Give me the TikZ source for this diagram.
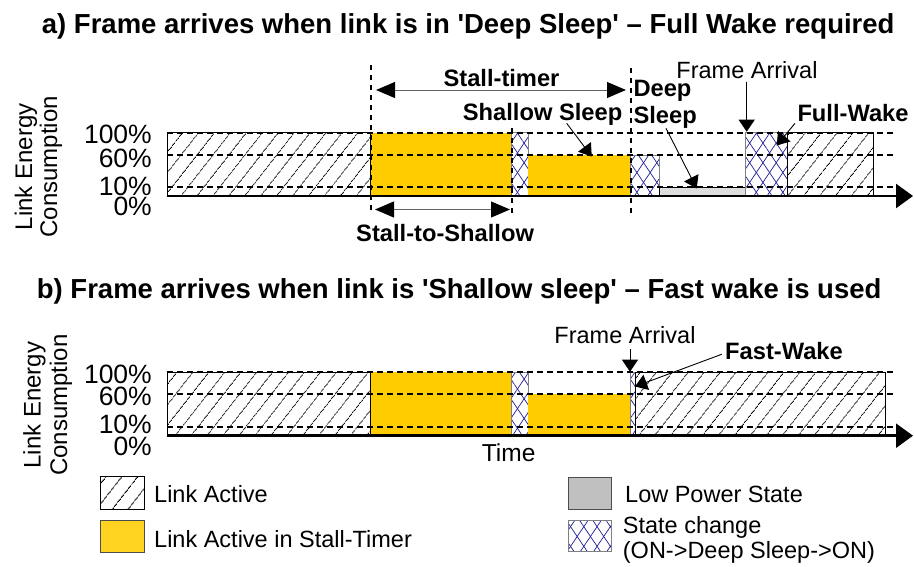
\documentclass[tikz,border=0pt]{standalone}
\usepackage{fontspec}
\setmainfont{Liberation Sans}
\usetikzlibrary{arrows.meta,patterns.meta}

\definecolor{stallyellow}{RGB}{255,204,0}
\definecolor{legyellow}{RGB}{255,211,32}
\definecolor{xblue}{RGB}{30,30,150}
\definecolor{lowgray}{RGB}{221,221,221}
\definecolor{leggray}{RGB}{192,192,192}
\definecolor{dimline}{RGB}{100,100,100}

\tikzset{
  activebox/.style={fill=white,
    postaction={pattern={Lines[angle=52,distance=13pt,line width=0.9pt]},pattern color=black},
    postaction={draw=black,line width=0.8pt}},
  stallbox/.style={fill=stallyellow},
  xbox/.style={fill=white,
    postaction={pattern={Lines[angle=56,distance=11pt,line width=0.7pt]},pattern color=xblue},
    postaction={pattern={Lines[angle=-56,distance=11pt,line width=0.7pt]},pattern color=xblue},
    postaction={draw=gray,line width=0.6pt}},
  lowbox/.style={fill=lowgray,draw=black,line width=0.6pt},
  guide/.style={draw=black,line width=2.2pt,dash pattern=on 6pt off 4pt},
  vguide/.style={draw=black,line width=2.2pt,dash pattern=on 5pt off 5pt},
  timeaxis/.style={draw=black,line width=2.5pt,-{Triangle[length=17pt,width=24pt]}},
  span/.style={draw=dimline,line width=1pt,
    {Triangle[length=19pt,width=16pt,color=black]}-{Triangle[length=19pt,width=16pt,color=black]}},
  annot/.style={draw=black,line width=0.9pt,-{Triangle[length=12pt,width=16pt]}},
  ttl/.style={font=\fontsize{27.5}{32}\selectfont\bfseries,inner sep=0pt,anchor=base west},
  blbl/.style={font=\fontsize{23.7}{27}\selectfont\bfseries,inner sep=0pt},
  rlbl/.style={font=\fontsize{23.5}{27}\selectfont,inner sep=0pt},
  ticklbl/.style={font=\fontsize{26.5}{28}\selectfont,inner sep=0pt,anchor=base east},
  ylbl/.style={font=\fontsize{24}{26}\selectfont,inner sep=0pt,anchor=base,rotate=90},
  leglbl/.style={font=\fontsize{23.5}{26}\selectfont,inner sep=0pt,anchor=base west},
}

\begin{document}
\begin{tikzpicture}[x=1pt,y=-1pt]
\useasboundingbox (0,0) rectangle (914,566);
\fill[white] (0,0) rectangle (914,566);

% ---------------- titles ----------------
\node[ttl] (titleA) at (41.7,33.3) {a) Frame arrives when link is in \textquotesingle Deep Sleep\textquotesingle\ – Full Wake required};
\node[ttl] (titleB) at (36.7,298.3) {b) Frame arrives when link is \textquotesingle Shallow sleep\textquotesingle\ – Fast wake is used};

% ---------------- panel a: bars ----------------
\path[activebox] (167,132.7) rectangle (370.7,196);
\path[stallbox]  (370.7,132.7) rectangle (511.7,196);
\path[xbox]      (511.7,132.7) rectangle (528.3,196);
\path[stallbox]  (528.3,155.3) rectangle (630,196);
\path[xbox]      (630,155.3) rectangle (659.3,196);
\path[lowbox]    (659.3,187) rectangle (745.3,196);
\path[xbox]      (745.3,132.7) rectangle (787.3,196);
\path[activebox] (787.3,132.7) rectangle (873.3,196);

% level guides
\draw[guide] (167,132.7) -- (895,132.7);
\draw[guide] (167,155.3) -- (895,155.3);
\draw[guide] (167,187) -- (895,187);

% time axis
\coordinate (aStart) at (167,196);
\coordinate (aEnd) at (913,196);
\draw[timeaxis] (aStart) -- (aEnd);

% phase boundaries
\draw[vguide] (370.7,65) -- (370.7,212);
\draw[vguide] (511.7,128) -- (511.7,213);
\draw[vguide] (630.7,68) -- (630.7,213);

% ticks and axis title
\node[ticklbl] (aT100) at (152,143.3) {100\%};
\node[ticklbl] (aT60)  at (152,167.3) {60\%};
\node[ticklbl] (aT10)  at (152,195) {10\%};
\node[ticklbl] (aT0)   at (152,215) {0\%};
\node[ylbl] (aY1) at (32.2,166.7) {Link Energy};
\node[ylbl] (aY2) at (57.2,166.7) {Consumption};

% spans
\coordinate (stL) at (376,90);
\coordinate (stR) at (626,90);
\draw[span] (stL) -- (stR);
\node[blbl,anchor=base] (stallTimer) at (501.5,86.7) {Stall-timer};
\coordinate (ssL) at (375,209.5);
\coordinate (ssR) at (510,209.5);
\draw[span] (ssL) -- (ssR);
\node[blbl,anchor=base west] (stallShallow) at (356,241.7) {Stall-to-Shallow};

% annotations
\node[blbl,anchor=base west] (shallow) at (462.7,120.7) {Shallow Sleep};
\coordinate (shFrom) at (566.7,123.3);
\coordinate (shTo) at (591.7,156.5);
\draw[annot] (shFrom) -- (shTo);

\node[blbl,anchor=base west] (deep1) at (633.3,96.7) {Deep};
\node[blbl,anchor=base west] (deep2) at (633.3,123.3) {Sleep};
\coordinate (dpFrom) at (666,128.3);
\coordinate (dpTo) at (696.7,188.5);
\draw[annot] (dpFrom) -- (dpTo);

\node[rlbl,anchor=base] (arrA) at (747,78.3) {Frame Arrival};
\coordinate (faFrom) at (746.7,81.7);
\coordinate (faTo) at (746.7,131.7);
\draw[annot] (faFrom) -- (faTo);

\node[blbl,anchor=base west] (fullWake) at (797.3,121.7) {Full-Wake};
\coordinate (fwFrom) at (795,123.3);
\coordinate (fwTo) at (776.7,145.5);
\draw[annot] (fwFrom) -- (fwTo);

% ---------------- panel b: bars ----------------
\path[activebox] (167,372.3) rectangle (370.7,435.7);
\path[stallbox]  (370.7,372.3) rectangle (511.7,435.7);
\path[xbox]      (511.7,372.3) rectangle (528.3,435.7);
\path[stallbox]  (528.3,394) rectangle (630,435.7);
\path[xbox]      (630,372.3) rectangle (635,435.7);
\path[activebox] (635,372.3) rectangle (885,435.7);

\draw[guide] (167,372.3) -- (895,372.3);
\draw[guide] (167,394) -- (895,394);
\draw[guide] (167,426.7) -- (895,426.7);

\coordinate (bStart) at (167,435.7);
\coordinate (bEnd) at (913,435.7);
\draw[timeaxis] (bStart) -- (bEnd);

\node[ticklbl] (bT100) at (152,383.3) {100\%};
\node[ticklbl] (bT60)  at (152,405) {60\%};
\node[ticklbl] (bT10)  at (152,433.3) {10\%};
\node[ticklbl] (bT0)   at (152,455) {0\%};
\node[ylbl] (bY1) at (40.5,405) {Link Energy};
\node[ylbl] (bY2) at (67.2,405) {Consumption};

\node[rlbl,anchor=base west,font=\fontsize{24.5}{27}\selectfont] (time) at (481.7,461.7) {Time};

\node[rlbl,anchor=base] (arrB) at (625,343.3) {Frame Arrival};
\coordinate (fbFrom) at (630,349.3);
\coordinate (fbTo) at (630,371.7);
\draw[annot] (fbFrom) -- (fbTo);

\node[blbl,anchor=base west] (fastWake) at (725,359.3) {Fast-Wake};
\coordinate (fsFrom) at (721.7,354.3);
\coordinate (fsTo) at (635,386.5);
\draw[annot] (fsFrom) -- (fsTo);

% ---------------- legend ----------------
\path[activebox] (100.7,476.7) rectangle (144.3,509.3);
\node[leglbl] (legActive) at (154,502.3) {Link Active};
\path[fill=legyellow,draw=black!70,line width=0.6pt] (100.7,520.7) rectangle (144.3,552.3);
\node[leglbl] (legStall) at (154,547.3) {Link Active in Stall-Timer};
\path[fill=leggray,draw=black!70,line width=0.8pt] (568.3,477.3) rectangle (611.7,509);
\node[leglbl] (legLow) at (625,502.3) {Low Power State};
\path[xbox] (568.3,520.7) rectangle (611.7,551.7);
\node[leglbl] (legX1) at (622.7,533.3) {State change};
\node[leglbl] (legX2) at (622.7,558.3) {(ON->Deep Sleep->ON)};
\end{tikzpicture}
\end{document}
